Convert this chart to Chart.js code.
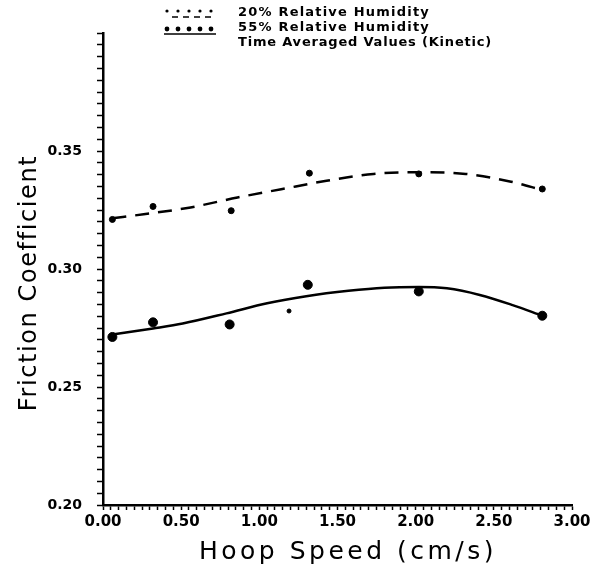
<!DOCTYPE html>
<html>
<head>
<meta charset="utf-8">
<script src="https://cdn.jsdelivr.net/npm/chart.js@4.4.1/dist/chart.umd.min.js"></script>
<style>
  html, body { margin: 0; padding: 0; background: #fff; }
  #wrap { width: 594px; height: 569px; position: relative; }
</style>
</head>
<body>
<div id="wrap"><canvas id="frictionChart" width="594" height="569"></canvas></div>
<script>
// measured points, 20% relative humidity
const rh20Speed = [0.06, 0.32, 0.82, 1.32, 2.02, 2.81];
const rh20Friction = [0.321, 0.3265, 0.3247, 0.3406, 0.3403, 0.3339];

// measured points, 55% relative humidity
const rh55Speed = [0.06, 0.32, 0.81, 1.19, 1.31, 2.02, 2.81];
const rh55Friction = [0.2712, 0.2774, 0.2765, 0.2822, 0.2933, 0.2905, 0.2802];

// fitted curves (time averaged values)
const fit20Speed = [0.06, 0.26, 0.56, 0.86, 1.14, 1.43, 1.73, 2.02, 2.32, 2.61, 2.81];
const fit20Friction = [0.3215, 0.3232, 0.3261, 0.3303, 0.3338, 0.3374, 0.3403, 0.341, 0.3403, 0.337, 0.3335];
const fit55Speed = [0.06, 0.32, 0.51, 0.79, 1.05, 1.3, 1.57, 1.8, 2.02, 2.2, 2.41, 2.62, 2.81];
const fit55Friction = [0.2722, 0.2748, 0.2769, 0.2812, 0.2855, 0.2885, 0.2908, 0.2921, 0.2924, 0.2918, 0.289, 0.2847, 0.2802];

const yMajor = [0.20, 0.25, 0.30, 0.35];
const xMajor = [0.00, 0.50, 1.00, 1.50, 2.00, 2.50, 3.00];

function pairs(xs, ys) {
  return xs.map((x, i) => ({ x: x, y: ys[i] }));
}

function isMajor(v, list) {
  return list.some(m => Math.abs(m - v) < 1e-6);
}

// legend and axis titles drawn by hand, the scan uses a wide lettering
const figureText = {
  id: 'figureText',
  afterDraw(chart) {
    const ctx = chart.ctx;
    ctx.save();
    ctx.fillStyle = '#000';
    ctx.strokeStyle = '#000';
    ctx.font = 'bold 13px "DejaVu Sans"';
    ctx.letterSpacing = '1.2px';
    ctx.textBaseline = 'middle';
    ctx.fillText('20% Relative Humidity', 238, 13);
    ctx.fillText('55% Relative Humidity', 238, 28);
    ctx.letterSpacing = '0.8px';
    ctx.fillText('Time Averaged Values (Kinetic)', 238, 43);
    for (let i = 0; i < 5; i++) {
      const cx = 167 + i * 11;
      ctx.beginPath();
      ctx.arc(cx, 11, 1.6, 0, Math.PI * 2);
      ctx.fill();
      ctx.beginPath();
      ctx.arc(cx, 29, 2.4, 0, Math.PI * 2);
      ctx.fill();
    }
    ctx.lineWidth = 1.5;
    ctx.setLineDash([6, 5]);
    ctx.beginPath();
    ctx.moveTo(172, 17);
    ctx.lineTo(216, 17);
    ctx.stroke();
    ctx.setLineDash([]);
    ctx.beginPath();
    ctx.moveTo(164, 34);
    ctx.lineTo(216, 34);
    ctx.stroke();

    // axis titles
    ctx.textAlign = 'center';
    ctx.font = '25px "DejaVu Sans"';
    ctx.letterSpacing = '3.5px';
    ctx.fillText('Hoop Speed (cm/s)', 348, 552);
    ctx.font = '24px "DejaVu Sans"';
    ctx.letterSpacing = '1.6px';
    ctx.translate(30, 283);
    ctx.rotate(-Math.PI / 2);
    ctx.fillText('Friction Coefficient', 0, 0);
    ctx.restore();
  }
};

const ctx = document.getElementById('frictionChart').getContext('2d');
new Chart(ctx, {
  type: 'scatter',
  data: {
    datasets: [
      {
        label: '20% fit',
        type: 'line',
        data: pairs(fit20Speed, fit20Friction),
        borderColor: '#000',
        borderWidth: 2.5,
        borderDash: [14, 9],
        pointRadius: 0,
        cubicInterpolationMode: 'monotone',
        fill: false
      },
      {
        label: '55% fit',
        type: 'line',
        data: pairs(fit55Speed, fit55Friction),
        borderColor: '#000',
        borderWidth: 2.5,
        pointRadius: 0,
        cubicInterpolationMode: 'monotone',
        fill: false
      },
      {
        label: '20% Relative Humidity',
        data: pairs(rh20Speed, rh20Friction),
        backgroundColor: '#000',
        borderColor: '#000',
        pointRadius: 3
      },
      {
        label: '55% Relative Humidity',
        data: pairs(rh55Speed, rh55Friction),
        backgroundColor: '#000',
        borderColor: '#000',
        pointRadius: [4.5, 4.5, 4.5, 2, 4.5, 4.5, 4.5]
      }
    ]
  },
  options: {
    responsive: false,
    animation: false,
    layout: { padding: { top: 33, right: 22, left: 0, bottom: 0 } },
    plugins: {
      legend: { display: false },
      tooltip: { enabled: false }
    },
    scales: {
      x: {
        type: 'linear',
        min: 0,
        max: 3,
        afterFit: scale => { scale.height = 64; },
        border: { display: true, color: '#000', width: 2.5 },
        grid: { drawOnChartArea: false, drawTicks: true, tickLength: 5, color: '#000', tickWidth: 1.5 },
        ticks: {
          stepSize: 0.05,
          autoSkip: false,
          maxRotation: 0,
          padding: 3,
          color: '#000',
          font: { family: '"DejaVu Sans"', size: 15, weight: 'bold' },
          callback: v => isMajor(v, xMajor) ? v.toFixed(2) : ''
        }
      },
      y: {
        type: 'linear',
        min: 0.2,
        max: 0.4,
        afterFit: scale => { scale.width = 103; },
        border: { display: true, color: '#000', width: 2.5 },
        grid: { drawOnChartArea: false, drawTicks: true, tickLength: 6, color: '#000', tickWidth: 1.5 },
        ticks: {
          stepSize: 0.005,
          autoSkip: false,
          padding: 15,
          color: '#000',
          font: { family: '"DejaVu Sans"', size: 14, weight: 'bold' },
          callback: v => isMajor(v, yMajor) ? v.toFixed(2) : ''
        }
      }
    }
  },
  plugins: [figureText]
});
</script>
</body>
</html>
